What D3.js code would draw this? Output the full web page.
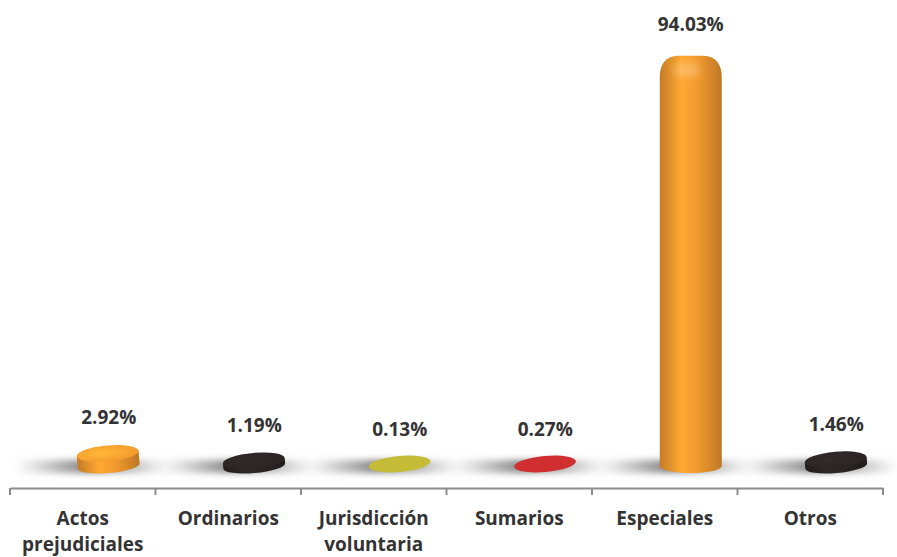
<!DOCTYPE html>
<html><head><meta charset="utf-8">
<script src="https://cdn.jsdelivr.net/npm/d3@7/dist/d3.min.js"></script>
<style>html,body{margin:0;padding:0;background:#fff;}svg{display:block;}</style>
</head><body>
<div id="chart"></div>
<script>
const categories = ["Actos prejudiciales","Ordinarios","Jurisdicción voluntaria","Sumarios","Especiales","Otros"];
const values = [2.92, 1.19, 0.13, 0.27, 94.03, 1.46];
const valueLabels = ["2.92%","1.19%","0.13%","0.27%","94.03%","1.46%"];
const colors = ["#f39a2e","#2b2424","#c4bb36","#cf2f2f","#f39a2e","#2b2424"];

const W = 897, H = 557;
const svg = d3.select("#chart").append("svg").attr("width", W).attr("height", H);
const defs = svg.append("defs");

const x = d3.scaleBand().domain(categories).range([10, 883]).padding(0);
const y = d3.scaleLinear().domain([0, 100]).range([466, 34]);
const floorY = y(0);
const depthShift = 26, barW = 62, ry = 7;
const FONT = "'Open Sans', Lato, sans-serif";

defs.append("filter").attr("id","blur").attr("x","-20%").attr("y","-100%").attr("width","140%").attr("height","300%")
  .append("feGaussianBlur").attr("stdDeviation", "3 3");

const sg = defs.append("linearGradient").attr("id","shadowGrad");
sg.append("stop").attr("offset","0%").attr("stop-color","#888").attr("stop-opacity",0);
sg.append("stop").attr("offset","45%").attr("stop-color","#6f6f6f").attr("stop-opacity",0.85);
sg.append("stop").attr("offset","70%").attr("stop-color","#888").attr("stop-opacity",0.65);
sg.append("stop").attr("offset","100%").attr("stop-color","#999").attr("stop-opacity",0);

colors.forEach((c, i) => {
  const base = d3.color(c);
  const g = defs.append("linearGradient").attr("id","body"+i);
  g.append("stop").attr("offset","0%").attr("stop-color", base.darker(0.6));
  g.append("stop").attr("offset","35%").attr("stop-color", base.brighter(0.25));
  g.append("stop").attr("offset","60%").attr("stop-color", base);
  g.append("stop").attr("offset","100%").attr("stop-color", base.darker(0.7));
  const rg = defs.append("radialGradient").attr("id","top"+i).attr("cx","40%").attr("cy","45%").attr("r","60%");
  rg.append("stop").attr("offset","0%").attr("stop-color", base.brighter(0.5));
  rg.append("stop").attr("offset","100%").attr("stop-color", base);
});

// shadows
svg.append("g").selectAll("rect").data(categories).join("rect")
  .attr("x", d => x(d) + 5)
  .attr("y", floorY - 6)
  .attr("width", x.bandwidth() + 10)
  .attr("height", 13)
  .attr("fill", "url(#shadowGrad)")
  .attr("filter", "url(#blur)");

// bars
const bars = svg.append("g").selectAll("g").data(categories).join("g")
  .attr("transform", d => `translate(${x(d) + x.bandwidth()/2 + depthShift},0)`);

bars.each(function(d, i) {
  const g = d3.select(this);
  const top = y(values[i]);
  const h = floorY - top;
  const r = barW / 2;
  if (h > 30) {
    const cr = 18;
    const p = `M${-r},${floorY} L${-r},${top + cr} Q${-r},${top - 3} ${-r + cr},${top - 4}
      L${r - cr},${top - 4} Q${r},${top - 3} ${r},${top + cr} L${r},${floorY}
      A${r},${ry} 0 0 1 ${-r},${floorY} Z`;
    g.append("path").attr("d", p).attr("fill", `url(#body${i})`);
    g.append("ellipse").attr("cx", -4).attr("cy", top + 10).attr("rx", 14).attr("ry", 8)
      .attr("fill", "#fff").attr("opacity", 0.2).attr("filter","url(#blur)");
  } else {
    const tilt = -5;
    const gg = g.append("g").attr("transform", `rotate(${tilt},0,${floorY})`);
    if (h > 4) {
      gg.append("path")
        .attr("d", `M${-r},${top} L${-r},${floorY} A${r},${ry} 0 0 0 ${r},${floorY} L${r},${top} Z`)
        .attr("fill", `url(#body${i})`);
    }
    gg.append("ellipse").attr("cx", 0).attr("cy", Math.min(top, floorY - 2)).attr("rx", r).attr("ry", ry + 1)
      .attr("fill", h > 4 ? `url(#top${i})` : colors[i]);
  }
});

// value labels
svg.append("g").selectAll("text").data(categories).join("text")
  .attr("x", d => x(d) + x.bandwidth()/2 + depthShift)
  .attr("y", (d, i) => y(values[i]) - 29)
  .attr("text-anchor", "middle")
  .attr("font-family", FONT)
  .attr("font-weight", "bold")
  .attr("font-size", 19)
  .attr("fill", "#333")
  .text((d, i) => valueLabels[i]);

// axis
const axisY = 488;
const axis = d3.axisBottom(x).tickSize(0).tickPadding(0);
const ax = svg.append("g").attr("transform", `translate(0,${axisY})`).call(axis);
ax.select(".domain").attr("stroke", "#8c8c8c").attr("stroke-width", 2);
ax.selectAll(".tick text").remove();
ax.selectAll(".tick").each(function(d) {
  const t = d3.select(this).append("text")
    .attr("text-anchor", "middle")
    .attr("font-family", FONT)
    .attr("font-weight", "bold")
    .attr("font-size", 19)
    .attr("fill", "#333");
  d.split(" ").forEach((w, k) => {
    t.append("tspan").attr("x", 0).attr("y", 37 + k * 26).text(w);
  });
});
const bounds = categories.map(c => x(c)).concat([x.range()[1]]);
ax.append("g").selectAll("line").data(bounds).join("line")
  .attr("x1", d => d).attr("x2", d => d)
  .attr("y1", 0).attr("y2", 7)
  .attr("stroke", "#8c8c8c").attr("stroke-width", 2);
</script>
</body></html>
